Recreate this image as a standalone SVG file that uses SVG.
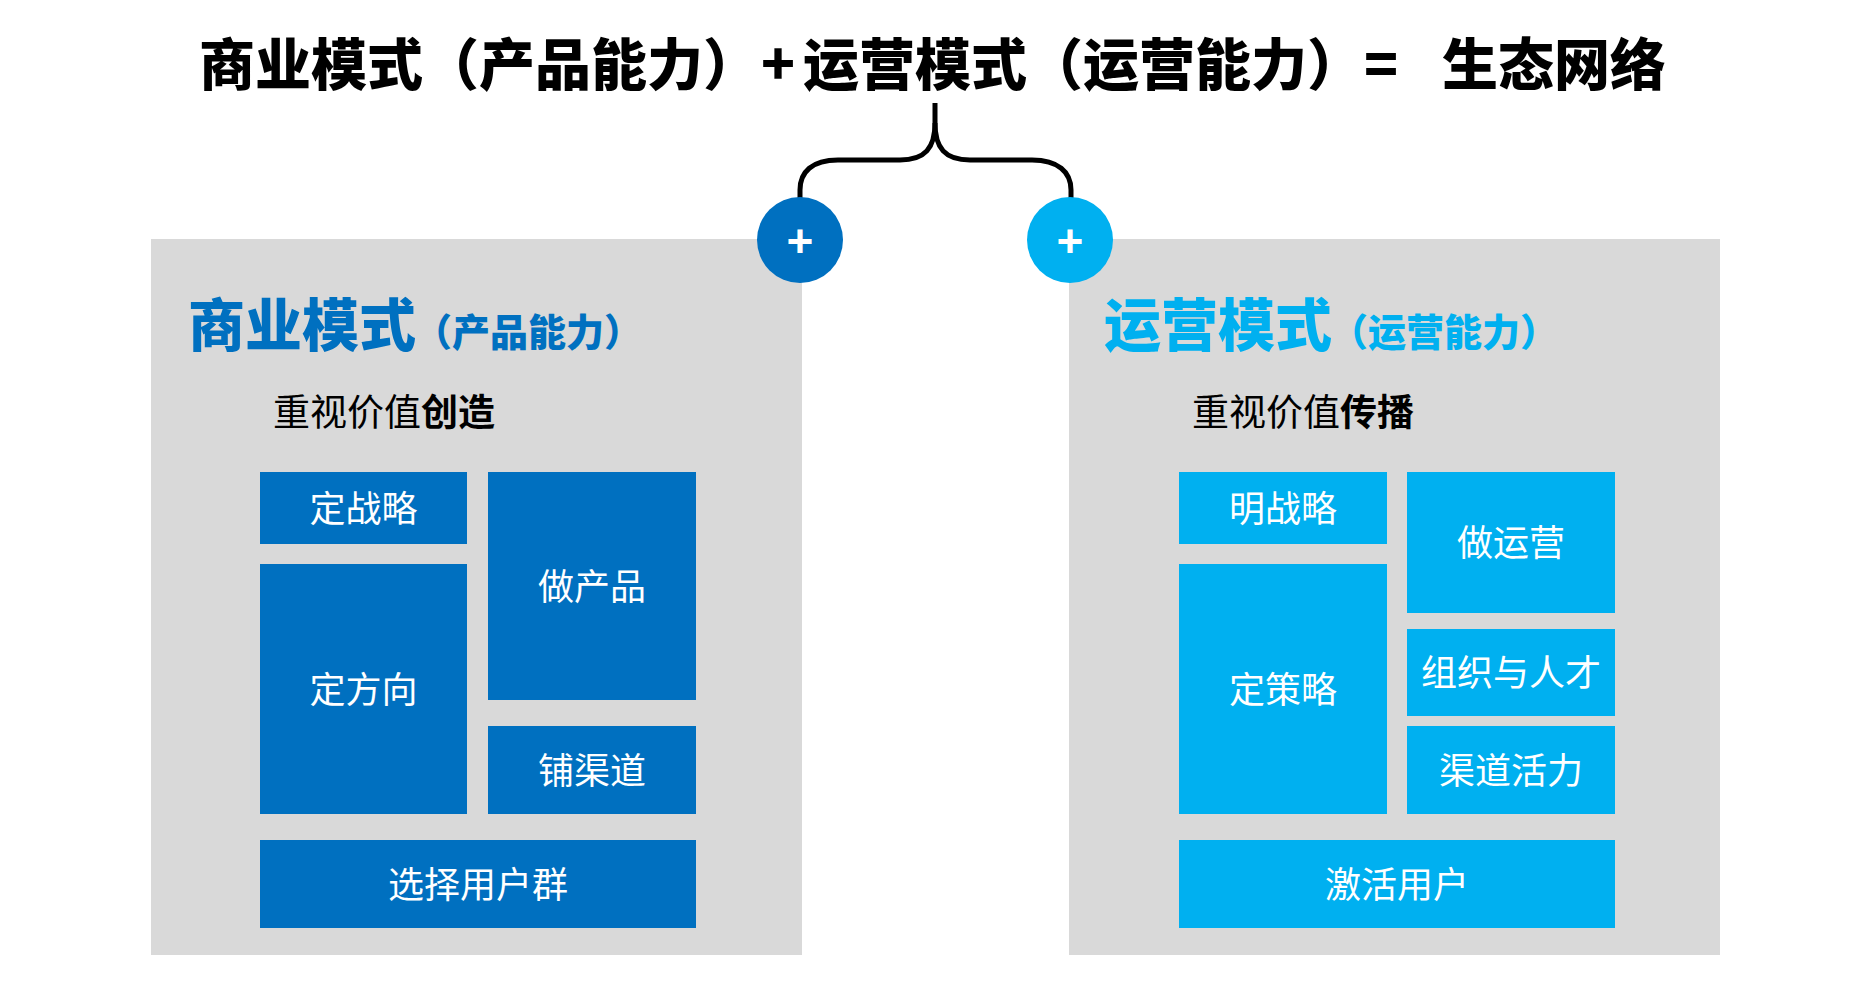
<svg xmlns="http://www.w3.org/2000/svg" width="1863" height="983" viewBox="0 0 1863 983">
<style>
.cjk{font-family:"Noto Sans CJK SC","Noto Sans CJK JP",sans-serif}
.title{font-size:56px;font-weight:900;fill:#000}
.panel{fill:#D9D9D9}
.dk{fill:#0070C0}
.lt{fill:#00B0F0}
.lbl{font-size:36px;font-weight:400;fill:#fff;text-anchor:middle}
.sub{font-size:37px;fill:#000}
.plus{font-family:"Liberation Sans",Arial,sans-serif;font-size:46px;font-weight:700;fill:#fff;text-anchor:middle}
.brace{fill:none;stroke:#000;stroke-width:5;stroke-linecap:butt}
</style>
<rect width="1863" height="983" fill="#fff"/>
<g id="title">
<text class="cjk title" y="85"><tspan x="199">商业模式（产品能力）</tspan><tspan x="761">+</tspan><tspan x="803">运营模式（运营能力）</tspan><tspan x="1364">=</tspan><tspan x="1442">生态网络</tspan></text>
</g>
<g id="panel-left">
<rect class="panel" x="151" y="239" width="651" height="716"/>
<text class="cjk dk" x="188" y="346" font-size="57" font-weight="900">商业模式<tspan font-size="38" dx="-2">（产品能力）</tspan></text>
<text class="cjk sub" x="273" y="426">重视价值<tspan font-weight="700">创造</tspan></text>
</g>
<g id="panel-right">
<rect class="panel" x="1069" y="239" width="651" height="716"/>
<text class="cjk lt" x="1104" y="346" font-size="57" font-weight="900">运营模式<tspan font-size="38" dx="-2">（运营能力）</tspan></text>
<text class="cjk sub" x="1192" y="426">重视价值<tspan font-weight="700">传播</tspan></text>
</g>
<g id="connectors">
<path class="brace" d="M935,103 V123 C935,148 925,160 900,160 H838 C812,160 800,172 800,190 V200"/>
<path class="brace" d="M935,123 C935,148 945,160 970,160 H1032 C1058,160 1071,172 1071,190 V200"/>
</g>
<g id="plus-left">
<circle class="dk" cx="800" cy="240" r="43"/>
<text class="plus" x="800" y="257">+</text>
</g>
<g id="plus-right">
<circle class="lt" cx="1070" cy="240" r="43"/>
<text class="plus" x="1070" y="257">+</text>
</g>
<g id="n-dingzhanlue"><rect class="dk" x="260" y="472" width="207" height="72"/><text class="cjk lbl" x="363.5" y="522">定战略</text></g>
<g id="n-dingfangxiang"><rect class="dk" x="260" y="564" width="207" height="250"/><text class="cjk lbl" x="363.5" y="703">定方向</text></g>
<g id="n-zuochanpin"><rect class="dk" x="488" y="472" width="208" height="228"/><text class="cjk lbl" x="592" y="600">做产品</text></g>
<g id="n-puqudao"><rect class="dk" x="488" y="726" width="208" height="88"/><text class="cjk lbl" x="592" y="784">铺渠道</text></g>
<g id="n-xuanze"><rect class="dk" x="260" y="840" width="436" height="88"/><text class="cjk lbl" x="478" y="898">选择用户群</text></g>
<g id="n-mingzhanlue"><rect class="lt" x="1179" y="472" width="208" height="72"/><text class="cjk lbl" x="1283" y="522">明战略</text></g>
<g id="n-zuoyunying"><rect class="lt" x="1407" y="472" width="208" height="141"/><text class="cjk lbl" x="1511" y="556">做运营</text></g>
<g id="n-dingcelue"><rect class="lt" x="1179" y="564" width="208" height="250"/><text class="cjk lbl" x="1283" y="703">定策略</text></g>
<g id="n-zuzhi"><rect class="lt" x="1407" y="629" width="208" height="87"/><text class="cjk lbl" x="1511" y="686">组织与人才</text></g>
<g id="n-qudaohuoli"><rect class="lt" x="1407" y="726" width="208" height="88"/><text class="cjk lbl" x="1511" y="784">渠道活力</text></g>
<g id="n-jihuo"><rect class="lt" x="1179" y="840" width="436" height="88"/><text class="cjk lbl" x="1397" y="898">激活用户</text></g>
</svg>
